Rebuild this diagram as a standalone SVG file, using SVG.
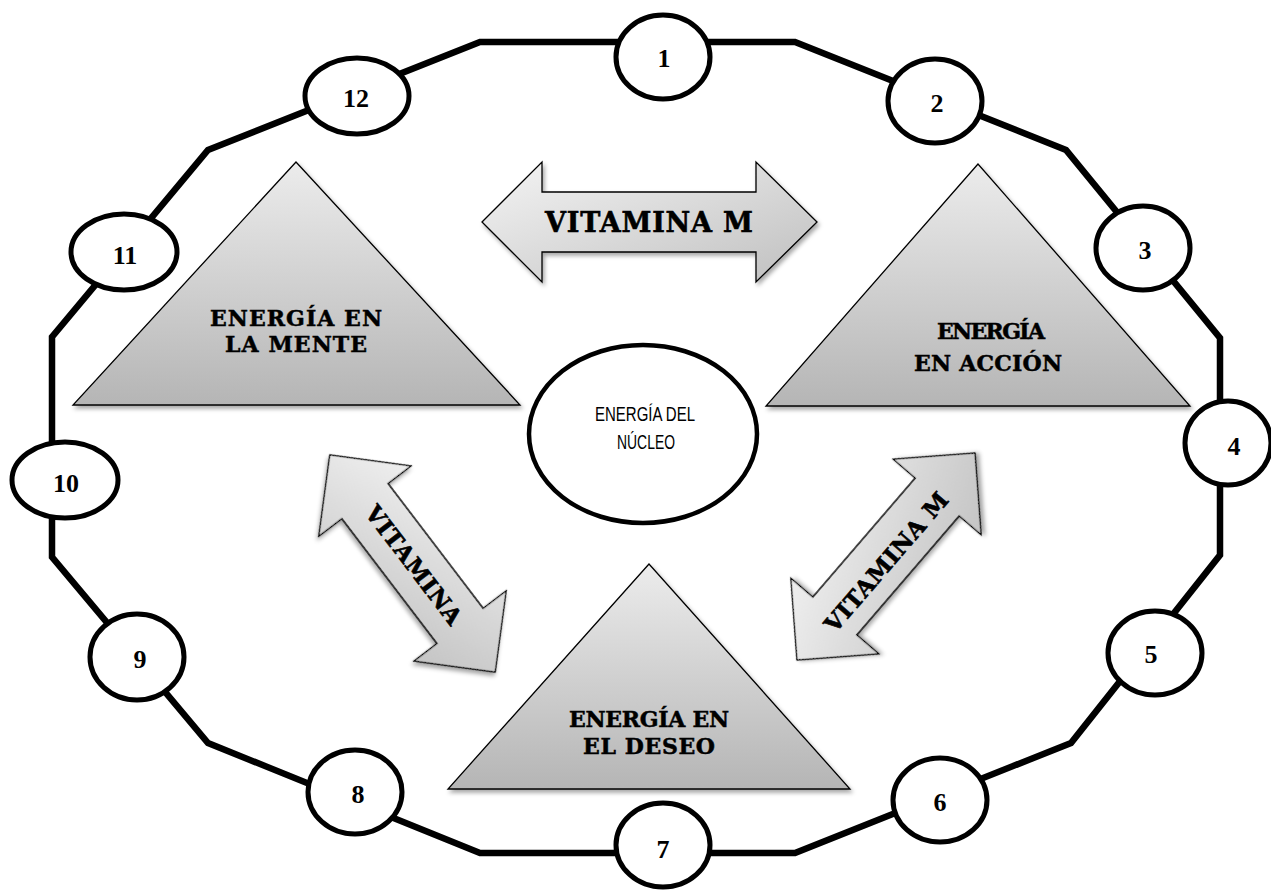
<svg xmlns="http://www.w3.org/2000/svg" width="1271" height="890" viewBox="0 0 1271 890">
<defs>
  <linearGradient id="triGrad" x1="0" y1="0" x2="0" y2="1">
    <stop offset="0" stop-color="#ececec"/>
    <stop offset="1" stop-color="#b5b5b5"/>
  </linearGradient>
  <linearGradient id="arrGrad" x1="0" y1="0" x2="1" y2="1">
    <stop offset="0" stop-color="#f4f4f4"/>
    <stop offset="1" stop-color="#bfbfbf"/>
  </linearGradient>
  <filter id="shadow" x="-10%" y="-10%" width="130%" height="130%">
    <feDropShadow dx="2" dy="3" stdDeviation="2" flood-color="#000" flood-opacity="0.35"/>
  </filter>
</defs>
<style>
  .ring { fill: none; stroke: #000; stroke-width: 6.5; stroke-linejoin: miter; }
  .num { fill: #fff; stroke: #000; stroke-width: 5; }
  .numtxt { font-family: "Liberation Serif", serif; font-weight: bold; font-size: 26px; text-anchor: middle; fill: #000; }
  .tri { fill: url(#triGrad); stroke: #000; stroke-width: 1.3; filter: url(#shadow); }
  .arr { fill: url(#arrGrad); stroke: #000; stroke-width: 1.3; filter: url(#shadow); }
  .lbl { font-family: "DejaVu Serif", serif; font-weight: bold; font-size: 22px; text-anchor: middle; fill: #000; stroke: #000; stroke-width: 0.5; }
  .arrtxt { font-family: "DejaVu Serif", serif; font-weight: bold; text-anchor: middle; fill: #000; stroke: #000; stroke-width: 0.6; }
  .core { fill: #fff; stroke: #000; stroke-width: 4.5; }
  .coretxt { font-family: "Liberation Sans", Arial, sans-serif; font-size: 20px; text-anchor: middle; fill: #000; }
</style>

<g id="connectors">
  <polygon class="ring" points="480,42 795,42 1066,150 1220,338 1220,555 1071,743 795,853 480,853 208,743 52,557 52,337 208,150"/>
</g>

<g id="node-1"><ellipse class="num" cx="663" cy="57" rx="47" ry="42"/><text class="numtxt" x="664" y="67">1</text></g>
<g id="node-2"><ellipse class="num" cx="935" cy="101" rx="47" ry="42"/><text class="numtxt" x="937" y="112">2</text></g>
<g id="node-3"><ellipse class="num" cx="1143" cy="248" rx="47" ry="42"/><text class="numtxt" x="1145" y="259">3</text></g>
<g id="node-4"><ellipse class="num" cx="1228" cy="443" rx="43" ry="42"/><text class="numtxt" x="1234" y="455">4</text></g>
<g id="node-5"><ellipse class="num" cx="1155" cy="653" rx="47" ry="42"/><text class="numtxt" x="1151" y="663">5</text></g>
<g id="node-6"><ellipse class="num" cx="940" cy="800" rx="47" ry="42"/><text class="numtxt" x="940" y="811">6</text></g>
<g id="node-7"><ellipse class="num" cx="663" cy="845" rx="47" ry="42"/><text class="numtxt" x="663" y="858">7</text></g>
<g id="node-8"><ellipse class="num" cx="355" cy="792" rx="47" ry="42"/><text class="numtxt" x="358" y="803">8</text></g>
<g id="node-9"><ellipse class="num" cx="137" cy="657" rx="47" ry="43"/><text class="numtxt" x="140" y="668">9</text></g>
<g id="node-10"><ellipse class="num" cx="65" cy="480" rx="53" ry="38"/><text class="numtxt" x="66" y="492">10</text></g>
<g id="node-11"><ellipse class="num" cx="124" cy="252" rx="53" ry="38"/><text class="numtxt" x="125" y="264">11</text></g>
<g id="node-12"><ellipse class="num" cx="357" cy="96" rx="52" ry="38"/><text class="numtxt" x="356" y="107">12</text></g>

<g id="tri-mente">
  <polygon class="tri" points="296,162 73,405 520,405"/>
  <text class="lbl" x="296" y="326" textLength="172">ENERGÍA EN</text>
  <text class="lbl" x="296" y="352" textLength="142">LA MENTE</text>
</g>
<g id="tri-accion">
  <polygon class="tri" points="978,164 766,406 1190,406"/>
  <text class="lbl" x="991" y="339" textLength="108">ENERGÍA</text>
  <text class="lbl" x="988" y="371" textLength="148">EN ACCIÓN</text>
</g>
<g id="tri-deseo">
  <polygon class="tri" points="649,564 448,789 850,789"/>
  <text class="lbl" x="649" y="727" textLength="160">ENERGÍA EN</text>
  <text class="lbl" x="649" y="754" textLength="132">EL DESEO</text>
</g>

<g id="arrow-top">
  <polygon class="arr" points="482,222 542,162 542,192 756,192 756,162 817,222 756,282 756,252 542,252 542,282"/>
  <text class="arrtxt" x="649" y="232" font-size="27" textLength="208">VITAMINA M</text>
</g>
<g id="arrow-left" transform="translate(412.5,563.5) rotate(52.7)">
  <polygon class="arr" points="-136.5,0 -78.5,-58 -78.5,-29 78.5,-29 78.5,-58 136.5,0 78.5,58 78.5,29 -78.5,29 -78.5,58"/>
  <text class="arrtxt" x="2" y="8" font-size="23" textLength="143">VITAMINA</text>
</g>
<g id="arrow-right" transform="translate(886,556.5) rotate(-49.3)">
  <polygon class="arr" points="-136.5,0 -78.5,-58 -78.5,-29 78.5,-29 78.5,-58 136.5,0 78.5,58 78.5,29 -78.5,29 -78.5,58"/>
  <text class="arrtxt" x="-4" y="12" font-size="23" textLength="176">VITAMINA M</text>
</g>

<g id="core">
  <ellipse class="core" cx="643" cy="434" rx="114" ry="89"/>
  <text class="coretxt" x="645" y="421" textLength="100" lengthAdjust="spacingAndGlyphs">ENERGÍA DEL</text>
  <text class="coretxt" x="646" y="449" textLength="58" lengthAdjust="spacingAndGlyphs">NÚCLEO</text>
</g>
</svg>
